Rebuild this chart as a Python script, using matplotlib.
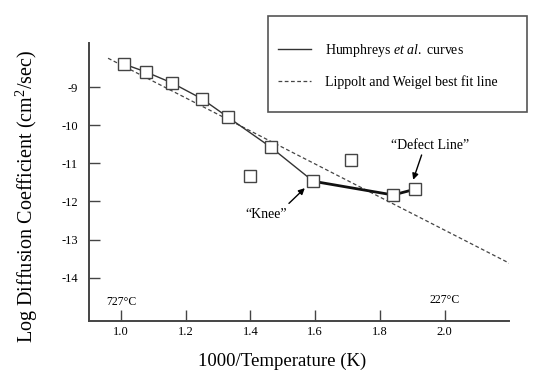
import matplotlib
matplotlib.use("Agg")
import matplotlib.pyplot as plt
from matplotlib.patches import Rectangle

plt.rcParams['font.family'] = ['Liberation Serif', 'DejaVu Serif']
plt.rcParams['mathtext.fontset'] = 'custom'
plt.rcParams['mathtext.rm'] = 'Liberation Serif'
plt.rcParams['mathtext.it'] = 'Liberation Serif:italic'
plt.rcParams['axes.unicode_minus'] = False

# Humphreys et al. data (1000/T, log D)
curve_x = [1.008, 1.077, 1.158, 1.249, 1.331, 1.462, 1.594]
curve_y = [-8.39, -8.60, -8.89, -9.30, -9.79, -10.57, -11.47]
defect_x = [1.594, 1.841, 1.908]
defect_y = [-11.47, -11.83, -11.68]
outlier_x = [1.398, 1.711]
outlier_y = [-11.33, -10.91]
# Lippolt and Weigel best fit line endpoints
fit_x = [0.96, 2.2]
fit_y = [-8.24, -13.62]

xticks = [1.0, 1.2, 1.4, 1.6, 1.8, 2.0]
xticklabels = ['1.0', '1.2', '1.4', '1.6', '1.8', '2.0']
yticks = [-9, -10, -11, -12, -13, -14]
yticklabels = ['-9', '-10', '-11', '-12', '-13', '-14']

fig = plt.figure(figsize=(5.5, 3.92), dpi=100)
ax = fig.add_axes([0.1618, 0.1819, 0.7636, 0.7084])

line_col = '#333333'
ax.plot(fit_x, fit_y, linestyle=(0, (3, 2)), color='#444444', lw=0.9,
        label='Lippolt and Weigel best fit line', zorder=2)
ax.plot(curve_x, curve_y, '-', color=line_col, lw=1.0,
        label=r'Humphreys $\mathit{et\ al.}$ curves', zorder=3)
ax.plot(defect_x, defect_y, '-', color='#111111', lw=2.0, zorder=3)

all_x = curve_x + defect_x[1:] + outlier_x
all_y = curve_y + defect_y[1:] + outlier_y
ax.plot(all_x, all_y, linestyle='none', marker='s', markersize=9,
        mfc='white', mec='#444444', mew=1.0, zorder=4)

ax.set_xlim(0.901, 2.199)
ax.set_ylim(-15.13, -7.84)
ax.set_xticks(xticks)
ax.set_xticklabels(xticklabels)
ax.set_yticks(yticks)
ax.set_yticklabels(yticklabels)
for s in ['top', 'right']:
    ax.spines[s].set_visible(False)
for s in ['left', 'bottom']:
    ax.spines[s].set_color('#444444')
    ax.spines[s].set_linewidth(1.4)
ax.tick_params(axis='x', direction='in', length=8, width=1.0, color='#444444',
               labelsize=9, pad=4)
ax.tick_params(axis='y', direction='in', length=8, width=1.0, color='#444444',
               labelsize=9, pad=8)

ax.set_xlabel('1000/Temperature (K)', fontsize=13.5)
ax.xaxis.set_label_coords(0.4595, -0.1476)
ax.xaxis.label.set_va('center')
ax.set_ylabel('Log Diffusion Coefficient (cm$^2$/sec)', fontsize=14.5)
ax.yaxis.set_label_coords(-0.1476, 0.447)
ax.yaxis.label.set_va('center')

ax.text(1.0, -14.63, '727°C', fontsize=8.5, ha='center', va='center')
ax.text(2.0, -14.59, '227°C', fontsize=8.5, ha='center', va='center')

ax.text(1.450, -12.35, '\u201cKnee\u201d', fontsize=10, ha='center', va='center')
ax.annotate('', xy=(1.568, -11.65), xytext=(1.519, -12.05),
            arrowprops=dict(arrowstyle='-|>', color='black', lw=1.0,
                            mutation_scale=9, shrinkA=0, shrinkB=0))
ax.text(1.955, -10.52, '\u201cDefect Line\u201d', fontsize=10, ha='center', va='center')
ax.annotate('', xy=(1.903, -11.43), xytext=(1.929, -10.78),
            arrowprops=dict(arrowstyle='-|>', color='black', lw=1.0,
                            mutation_scale=9, shrinkA=0, shrinkB=0))

# legend box
fig.patches.append(Rectangle((0.4878, 0.715), 0.4698, 0.2449,
                             transform=fig.transFigure, fill=False,
                             edgecolor='#555555', linewidth=1.2))
handles, labels = ax.get_legend_handles_labels()
leg = fig.legend([handles[1], handles[0]], [labels[1], labels[0]],
                 loc='upper left', bbox_to_anchor=(0.5055, 0.893),
                 frameon=False, fontsize=10,
                 handlelength=2.4, handletextpad=1.0, labelspacing=1.15,
                 borderpad=0, borderaxespad=0)

fig.savefig('out.png', dpi=100)
